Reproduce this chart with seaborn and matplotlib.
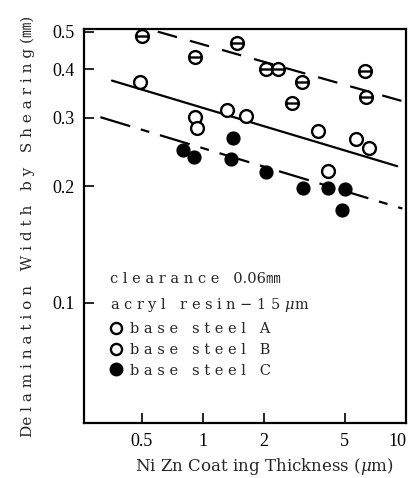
import matplotlib
matplotlib.use("Agg")
import matplotlib.pyplot as plt
import seaborn as sns
import numpy as np
import pandas as pd
from matplotlib.path import Path
from matplotlib.lines import Line2D

sns.set_theme(style="white")
plt.rcParams['font.family'] = ['Liberation Serif', 'Noto Sans CJK JP', 'DejaVu Sans']
plt.rcParams['mathtext.fontset'] = 'dejavuserif'
heavy = ['DejaVu Serif', 'Noto Sans CJK JP']

# data (log-log)
a_x = [0.49, 0.92, 0.94, 1.32, 1.63, 3.70, 4.14, 5.65, 6.57]
a_y = [0.370, 0.301, 0.282, 0.314, 0.304, 0.277, 0.219, 0.264, 0.251]

b_x = [0.50, 0.92, 1.47, 2.04, 2.35, 3.06, 2.75, 6.26, 6.38]
b_y = [0.488, 0.430, 0.467, 0.400, 0.400, 0.370, 0.328, 0.396, 0.339]

c_x = [0.80, 0.90, 1.41, 1.38, 2.05, 3.12, 4.14, 4.99, 4.86]
c_y = [0.247, 0.238, 0.266, 0.235, 0.218, 0.198, 0.198, 0.197, 0.174]

# fitted lines (end points)
fit_a_x = [0.357, 9.06]
fit_a_y = [0.374, 0.225]
fit_b_x = [0.60, 9.8]
fit_b_y = [0.500, 0.330]
fit_c_x = [0.313, 9.6]
fit_c_y = [0.301, 0.175]

x_ticks = [0.5, 1, 2, 5, 10]
x_tick_labels = ["0.5", "1", "2", "5", "10"]
y_ticks = [0.1, 0.2, 0.3, 0.4, 0.5]
y_tick_labels = ["0.1", "0.2", "0.3", "0.4", "0.5"]

df = pd.concat([
    pd.DataFrame({"x": a_x, "y": a_y, "steel": "A"}),
    pd.DataFrame({"x": b_x, "y": b_y, "steel": "B"}),
    pd.DataFrame({"x": c_x, "y": c_y, "steel": "C"}),
])

# circle with a horizontal bar for steel B
theta = Path.make_compound_path(Path.unit_circle(),
                                Path([[-1, 0], [1, 0]], [Path.MOVETO, Path.LINETO]))

fig = plt.figure(figsize=(4.11, 4.78), dpi=100)
ax = fig.add_axes([84 / 411, 55 / 478, 322 / 411, 394 / 478])
ax.set_xscale("log")
ax.set_yscale("log")

sns.lineplot(x=fit_a_x, y=fit_a_y, ax=ax, color="black", lw=1.6)
sns.lineplot(x=fit_b_x, y=fit_b_y, ax=ax, color="black", lw=1.6)
ax.lines[-1].set_dashes([9, 6])
sns.lineplot(x=fit_c_x, y=fit_c_y, ax=ax, color="black", lw=1.6)
ax.lines[-1].set_dashes([14, 5, 4, 5])

sub = df[df.steel == "A"]
sns.scatterplot(data=sub, x="x", y="y", ax=ax, marker="o", s=85,
                facecolor="white", edgecolor="black", linewidth=1.7, zorder=3)
sub = df[df.steel == "B"]
sns.scatterplot(data=sub, x="x", y="y", ax=ax, marker=theta, s=85,
                facecolor="white", edgecolor="black", linewidth=1.7, zorder=3)
sub = df[df.steel == "C"]
sns.scatterplot(data=sub, x="x", y="y", ax=ax, marker="o", s=85,
                color="black", edgecolor="black", linewidth=1.0, zorder=3)

ax.set_xlim(0.26, 10)
ax.set_ylim(0.049, 0.508)
ax.set_xticks(x_ticks)
ax.set_xticklabels(x_tick_labels)
ax.set_yticks(y_ticks)
ax.set_yticklabels(y_tick_labels)
ax.minorticks_off()
ax.tick_params(direction="in", length=7, width=1.2, labelsize=13,
               colors="black", pad=7, left=True, bottom=True)
# keep "10" inside the figure
ax.get_xticklabels()[-1].set_horizontalalignment("right")
for sp in ax.spines.values():
    sp.set_color("black")
    sp.set_linewidth(1.6)

ax.set_xlabel("Ni Zn Coat ing Thickness ($\\mu$m)", fontsize=12,
              family=heavy, labelpad=6)
ax.xaxis.set_label_coords(0.56, -0.085)
ax.set_ylabel("De l a m i n a t i o n   W i d t h   b y   S h e a r i n g (㎜)",
              fontsize=11, family=heavy, labelpad=12)

ax.text(0.08, 0.355, "c l e a r a n c e   0.06㎜", transform=ax.transAxes,
        fontsize=10.5, family=heavy)
ax.text(0.08, 0.29, "a c r y l   r e s i n − 1 5 $\\mu$m", transform=ax.transAxes,
        fontsize=10.5, family=heavy)

handles = [
    Line2D([], [], ls="none", marker="o", ms=8, mfc="white", mec="black", mew=1.7),
    Line2D([], [], ls="none", marker="o", ms=8, mfc="white", mec="black", mew=1.7),
    Line2D([], [], ls="none", marker="o", ms=9, mfc="black", mec="black"),
]
labels = ["b a s e   s t e e l   A", "b a s e   s t e e l   B", "b a s e   s t e e l   C"]
ax.legend(handles, labels, loc="upper left", bbox_to_anchor=(0.06, 0.27),
          frameon=False, prop={"family": heavy, "size": 10.5},
          handletextpad=0.4, labelspacing=0.45, handlelength=1.0, borderaxespad=0)

fig.savefig("out.png", dpi=100)
